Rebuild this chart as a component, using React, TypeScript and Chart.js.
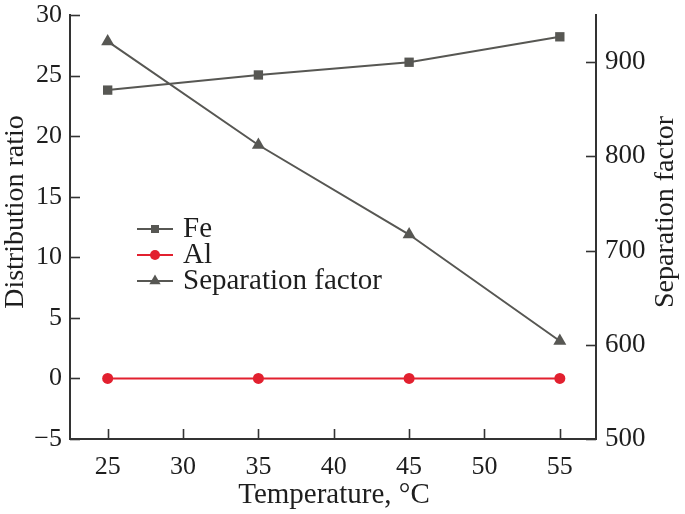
import React, { useEffect, useRef } from "react";
import { Chart, registerables } from "chart.js";

Chart.register(...registerables);

const temperatures = [25, 35, 45, 55];
const feDistribution = [23.8, 25.05, 26.1, 28.2];
const alDistribution = [0, 0, 0, 0];
const separationFactor = [922, 812, 717, 604];

const seriesLabels = ["Fe", "Al", "Separation factor"];
const xTitle = "Temperature, °C";
const leftTitle = "Distribution ratio";
const rightTitle = "Separation factor";

const GRAY = "#575753";
const RED = "#e2202f";
const AXIS = "#333333";
const TEXT = "#1e1e1e";
const FONT = "'Liberation Serif', 'DejaVu Serif', serif";

function drawMarker(ctx: CanvasRenderingContext2D, style: string, x: number, y: number, r: number, color: string) {
  ctx.save();
  ctx.fillStyle = color;
  ctx.beginPath();
  if (style === "rect") {
    ctx.rect(x - r, y - r, 2 * r, 2 * r);
  } else if (style === "circle") {
    ctx.arc(x, y, r, 0, Math.PI * 2);
  } else {
    ctx.moveTo(x, y - r);
    ctx.lineTo(x + r * 0.866, y + r * 0.5);
    ctx.lineTo(x - r * 0.866, y + r * 0.5);
    ctx.closePath();
  }
  ctx.fill();
  ctx.restore();
}

const decorPlugin = {
  id: "decor",
  afterDraw(chart: any) {
    const ctx: CanvasRenderingContext2D = chart.ctx;
    const area = chart.chartArea;
    ctx.save();
    // inward tick marks
    ctx.strokeStyle = AXIS;
    ctx.lineWidth = 1.6;
    const xs = chart.scales.x;
    xs.ticks.forEach((t: any) => {
      const px = Math.round(xs.getPixelForValue(t.value)) + 0.5;
      ctx.beginPath();
      ctx.moveTo(px, area.bottom);
      ctx.lineTo(px, area.bottom - 10);
      ctx.stroke();
    });
    const yl = chart.scales.y;
    yl.ticks.forEach((t: any) => {
      const py = Math.round(yl.getPixelForValue(t.value)) + 0.5;
      ctx.beginPath();
      ctx.moveTo(area.left, py);
      ctx.lineTo(area.left + 10, py);
      ctx.stroke();
    });
    const yr = chart.scales.y1;
    yr.ticks.forEach((t: any) => {
      const py = Math.round(yr.getPixelForValue(t.value)) + 0.5;
      ctx.beginPath();
      ctx.moveTo(area.right, py);
      ctx.lineTo(area.right - 10, py);
      ctx.stroke();
    });

    // axis titles
    ctx.fillStyle = TEXT;
    ctx.textAlign = "center";
    ctx.textBaseline = "middle";
    ctx.font = `29px ${FONT}`;
    ctx.fillText(xTitle, 334, 495);

    ctx.font = `28px ${FONT}`;
    ctx.save();
    ctx.translate(16, 212);
    ctx.rotate(-Math.PI / 2);
    ctx.fillText(leftTitle, 0, 0);
    ctx.restore();

    ctx.save();
    ctx.translate(666, 212);
    ctx.rotate(-Math.PI / 2);
    ctx.fillText(rightTitle, 0, 0);
    ctx.restore();

    // legend
    const rows = [229, 255, 281];
    chart.data.datasets.forEach((ds: any, i: number) => {
      const y = rows[i];
      ctx.strokeStyle = ds.borderColor;
      ctx.lineWidth = 2;
      ctx.beginPath();
      ctx.moveTo(137, y);
      ctx.lineTo(173, y);
      ctx.stroke();
      const r = ds.pointStyle === "rect" ? 4 : ds.pointStyle === "circle" ? 5 : 6.5;
      drawMarker(ctx, ds.pointStyle, 155, y, r, ds.borderColor);
      ctx.fillStyle = TEXT;
      ctx.font = `29px ${FONT}`;
      ctx.textAlign = "left";
      ctx.textBaseline = "middle";
      ctx.fillText(ds.label, 183, y);
    });
    ctx.restore();
  },
};

export default function App() {
  const ref = useRef<HTMLCanvasElement | null>(null);

  useEffect(() => {
    document.body.style.margin = "0";
    if (!ref.current) return;
    const mk = (vals: number[]) => temperatures.map((t, i) => ({ x: t, y: vals[i] }));
    const noPad = (s: any) => {
      s.paddingTop = 0;
      s.paddingBottom = 0;
      s.paddingLeft = 0;
      s.paddingRight = 0;
    };
    const chart = new Chart(ref.current, {
      type: "line",
      data: {
        datasets: [
          {
            label: seriesLabels[0],
            data: mk(feDistribution),
            yAxisID: "y",
            borderColor: GRAY,
            backgroundColor: GRAY,
            borderWidth: 2,
            pointStyle: "rect",
            pointRadius: 6.6,
            pointBorderWidth: 0,
          },
          {
            label: seriesLabels[1],
            data: mk(alDistribution),
            yAxisID: "y",
            borderColor: RED,
            backgroundColor: RED,
            borderWidth: 2,
            pointStyle: "circle",
            pointRadius: 5.5,
            pointBorderWidth: 0,
          },
          {
            label: seriesLabels[2],
            data: mk(separationFactor),
            yAxisID: "y1",
            borderColor: GRAY,
            backgroundColor: GRAY,
            borderWidth: 2,
            pointStyle: "triangle",
            pointRadius: 7.5,
            pointBorderWidth: 0,
          },
        ],
      },
      options: {
        animation: false,
        responsive: false,
        layout: { padding: { top: 15, left: 0, right: 0, bottom: 0 } },
        plugins: { legend: { display: false }, tooltip: { enabled: false } },
        scales: {
          x: {
            type: "linear",
            min: 22.5,
            max: 57.4,
            afterFit: (s: any) => { s.height = 75; noPad(s); },
            grid: { display: false, drawTicks: false },
            border: { display: true, color: AXIS, width: 2 },
            ticks: {
              stepSize: 5,
              includeBounds: false,
              autoSkip: false,
              maxRotation: 0,
              padding: 13,
              color: TEXT,
              font: { family: FONT, size: 26 },
            },
          },
          y: {
            type: "linear",
            position: "left",
            min: -5,
            max: 30,
            afterFit: (s: any) => { s.width = 70; noPad(s); },
            grid: { display: false, drawTicks: false },
            border: { display: true, color: AXIS, width: 2 },
            ticks: {
              stepSize: 5,
              includeBounds: false,
              padding: 8,
              color: TEXT,
              font: { family: FONT, size: 26 },
              callback: (v: any) => (Number(v) < 0 ? "\u2212" + Math.abs(Number(v)) : String(v)),
            },
          },
          y1: {
            type: "linear",
            position: "right",
            min: 500,
            max: 950,
            afterFit: (s: any) => { s.width = 89; noPad(s); },
            grid: { display: false, drawTicks: false },
            border: { display: true, color: AXIS, width: 2 },
            ticks: {
              stepSize: 100,
              includeBounds: false,
              padding: 9,
              color: TEXT,
              font: { family: FONT, size: 27 },
            },
          },
        },
      },
      plugins: [decorPlugin],
    } as any);
    return () => chart.destroy();
  }, []);

  return (
    <div style={{ width: 685, height: 514 }}>
      <canvas ref={ref} width={685} height={514} />
    </div>
  );
}
